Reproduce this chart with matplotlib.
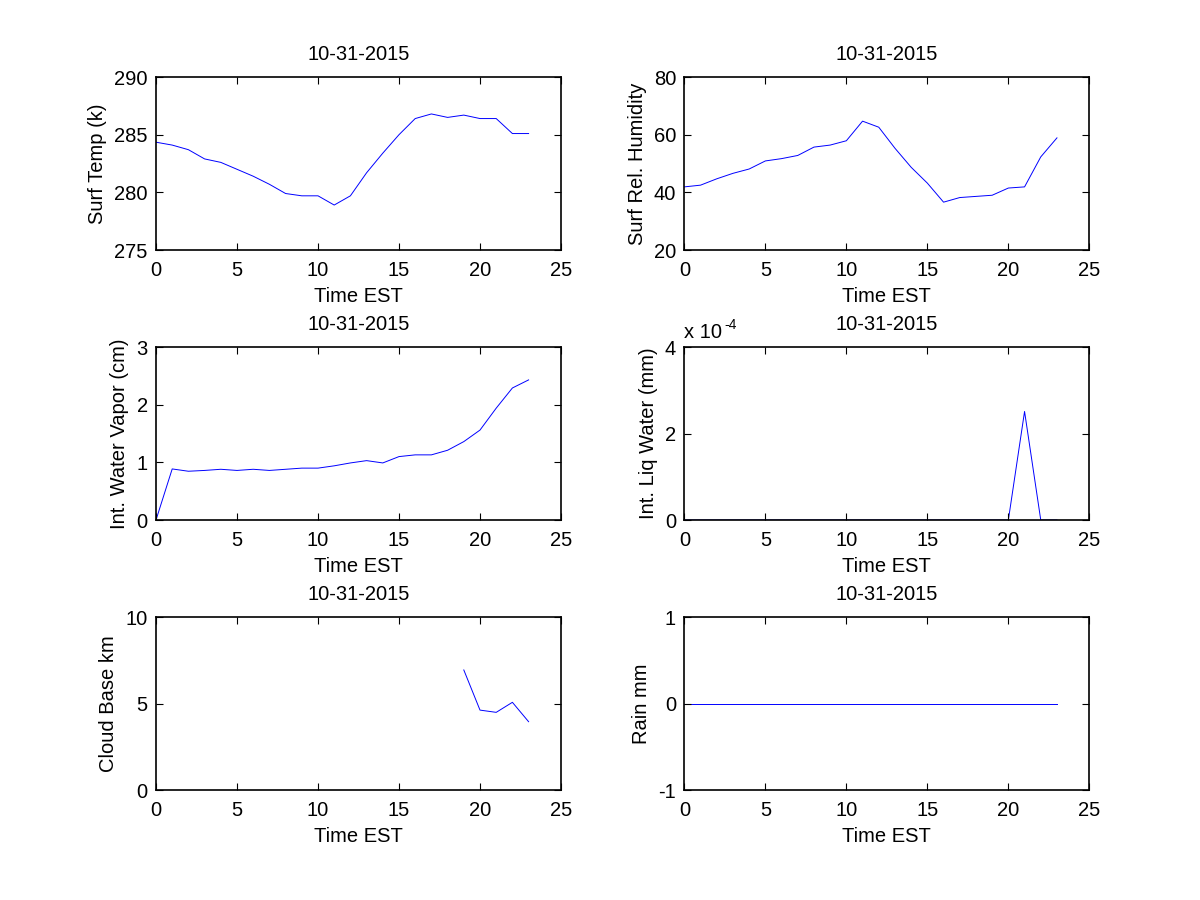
import numpy as np
import matplotlib.pyplot as plt
from matplotlib.ticker import FuncFormatter

plt.rcParams['font.family'] = ['Liberation Sans', 'DejaVu Sans']
plt.rcParams['font.size'] = 14.5
plt.rcParams['axes.unicode_minus'] = False

# data (hourly, 0..23)
hours = list(range(24))
date_str = '10-31-2015'

surf_temp = [284.35, 284.1, 283.7, 282.9, 282.6, 282.0, 281.4, 280.7, 279.9, 279.7,
             279.7, 278.9, 279.7, 281.7, 283.4, 285.0, 286.4, 286.8, 286.5, 286.7,
             286.4, 286.4, 285.1, 285.1]
rel_hum = [41.9, 42.5, 44.7, 46.6, 48.1, 50.9, 51.7, 52.8, 55.7, 56.4,
           57.9, 64.7, 62.6, 55.3, 48.7, 43.2, 36.6, 38.2, 38.6, 39.0,
           41.5, 41.9, 52.3, 58.9]
water_vapor = [0.0, 0.886, 0.846, 0.86, 0.88, 0.86, 0.88, 0.86, 0.88, 0.90,
               0.90, 0.94, 0.99, 1.03, 0.99, 1.10, 1.13, 1.13, 1.21, 1.36,
               1.56, 1.94, 2.29, 2.43]
liq_water = [0.0] * 20 + [0.0, 2.51e-4, 0.0, 0.0]
cloud_base = [np.nan] * 19 + [6.94, 4.62, 4.49, 5.07, 3.95]
rain = [0.0] * 24

fig = plt.figure(figsize=(12, 9), dpi=100)

# matlab style subplot positions
lefts = [0.13, 0.5703]
bottoms = [0.7222, 0.4222, 0.1222]
w, h = 0.3375, 0.1922

panels = [
    (surf_temp, 'Surf Temp (k)', (275, 290), [275, 280, 285, 290]),
    (rel_hum, 'Surf Rel. Humidity', (20, 80), [20, 40, 60, 80]),
    (water_vapor, 'Int. Water Vapor (cm)', (0, 3), [0, 1, 2, 3]),
    (liq_water, 'Int. Liq Water (mm)', (0, 4e-4), [0, 2e-4, 4e-4]),
    (cloud_base, 'Cloud Base km', (0, 10), [0, 5, 10]),
    (rain, 'Rain mm', (-1, 1), [-1, 0, 1]),
]

for i, (vals, ylab, ylim, yticks) in enumerate(panels):
    ax = fig.add_axes([lefts[i % 2], bottoms[i // 2], w, h])
    ax.plot(hours, vals, color='blue', linewidth=0.7, zorder=1)
    ax.set_xlim(0, 25)
    ax.set_xticks([0, 5, 10, 15, 20, 25])
    ax.set_ylim(*ylim)
    ax.set_yticks(yticks)
    ax.tick_params(direction='in', top=True, right=True, length=5, width=0.8)
    ax.tick_params(axis='x', pad=8)
    ax.tick_params(axis='y', pad=6)
    for s in ax.spines.values():
        s.set_linewidth(1.2)
        s.set_zorder(3)
    ax.set_xlabel('Time EST', labelpad=5)
    ax.set_ylabel(ylab, labelpad=5)
    ax.set_title(date_str, pad=12, fontsize=14.5)
    if i == 3:
        # scale factor shown matlab style above the y axis
        ax.yaxis.set_major_formatter(FuncFormatter(lambda v, p: '%g' % round(v * 1e4, 6)))
        ax.text(0.0, 1.03, 'x 10', transform=ax.transAxes, fontsize=14.5,
                ha='left', va='bottom')
        ax.text(0.098, 1.085, '-4', transform=ax.transAxes, fontsize=10,
                ha='left', va='bottom')

fig.savefig('out.png', dpi=100)
